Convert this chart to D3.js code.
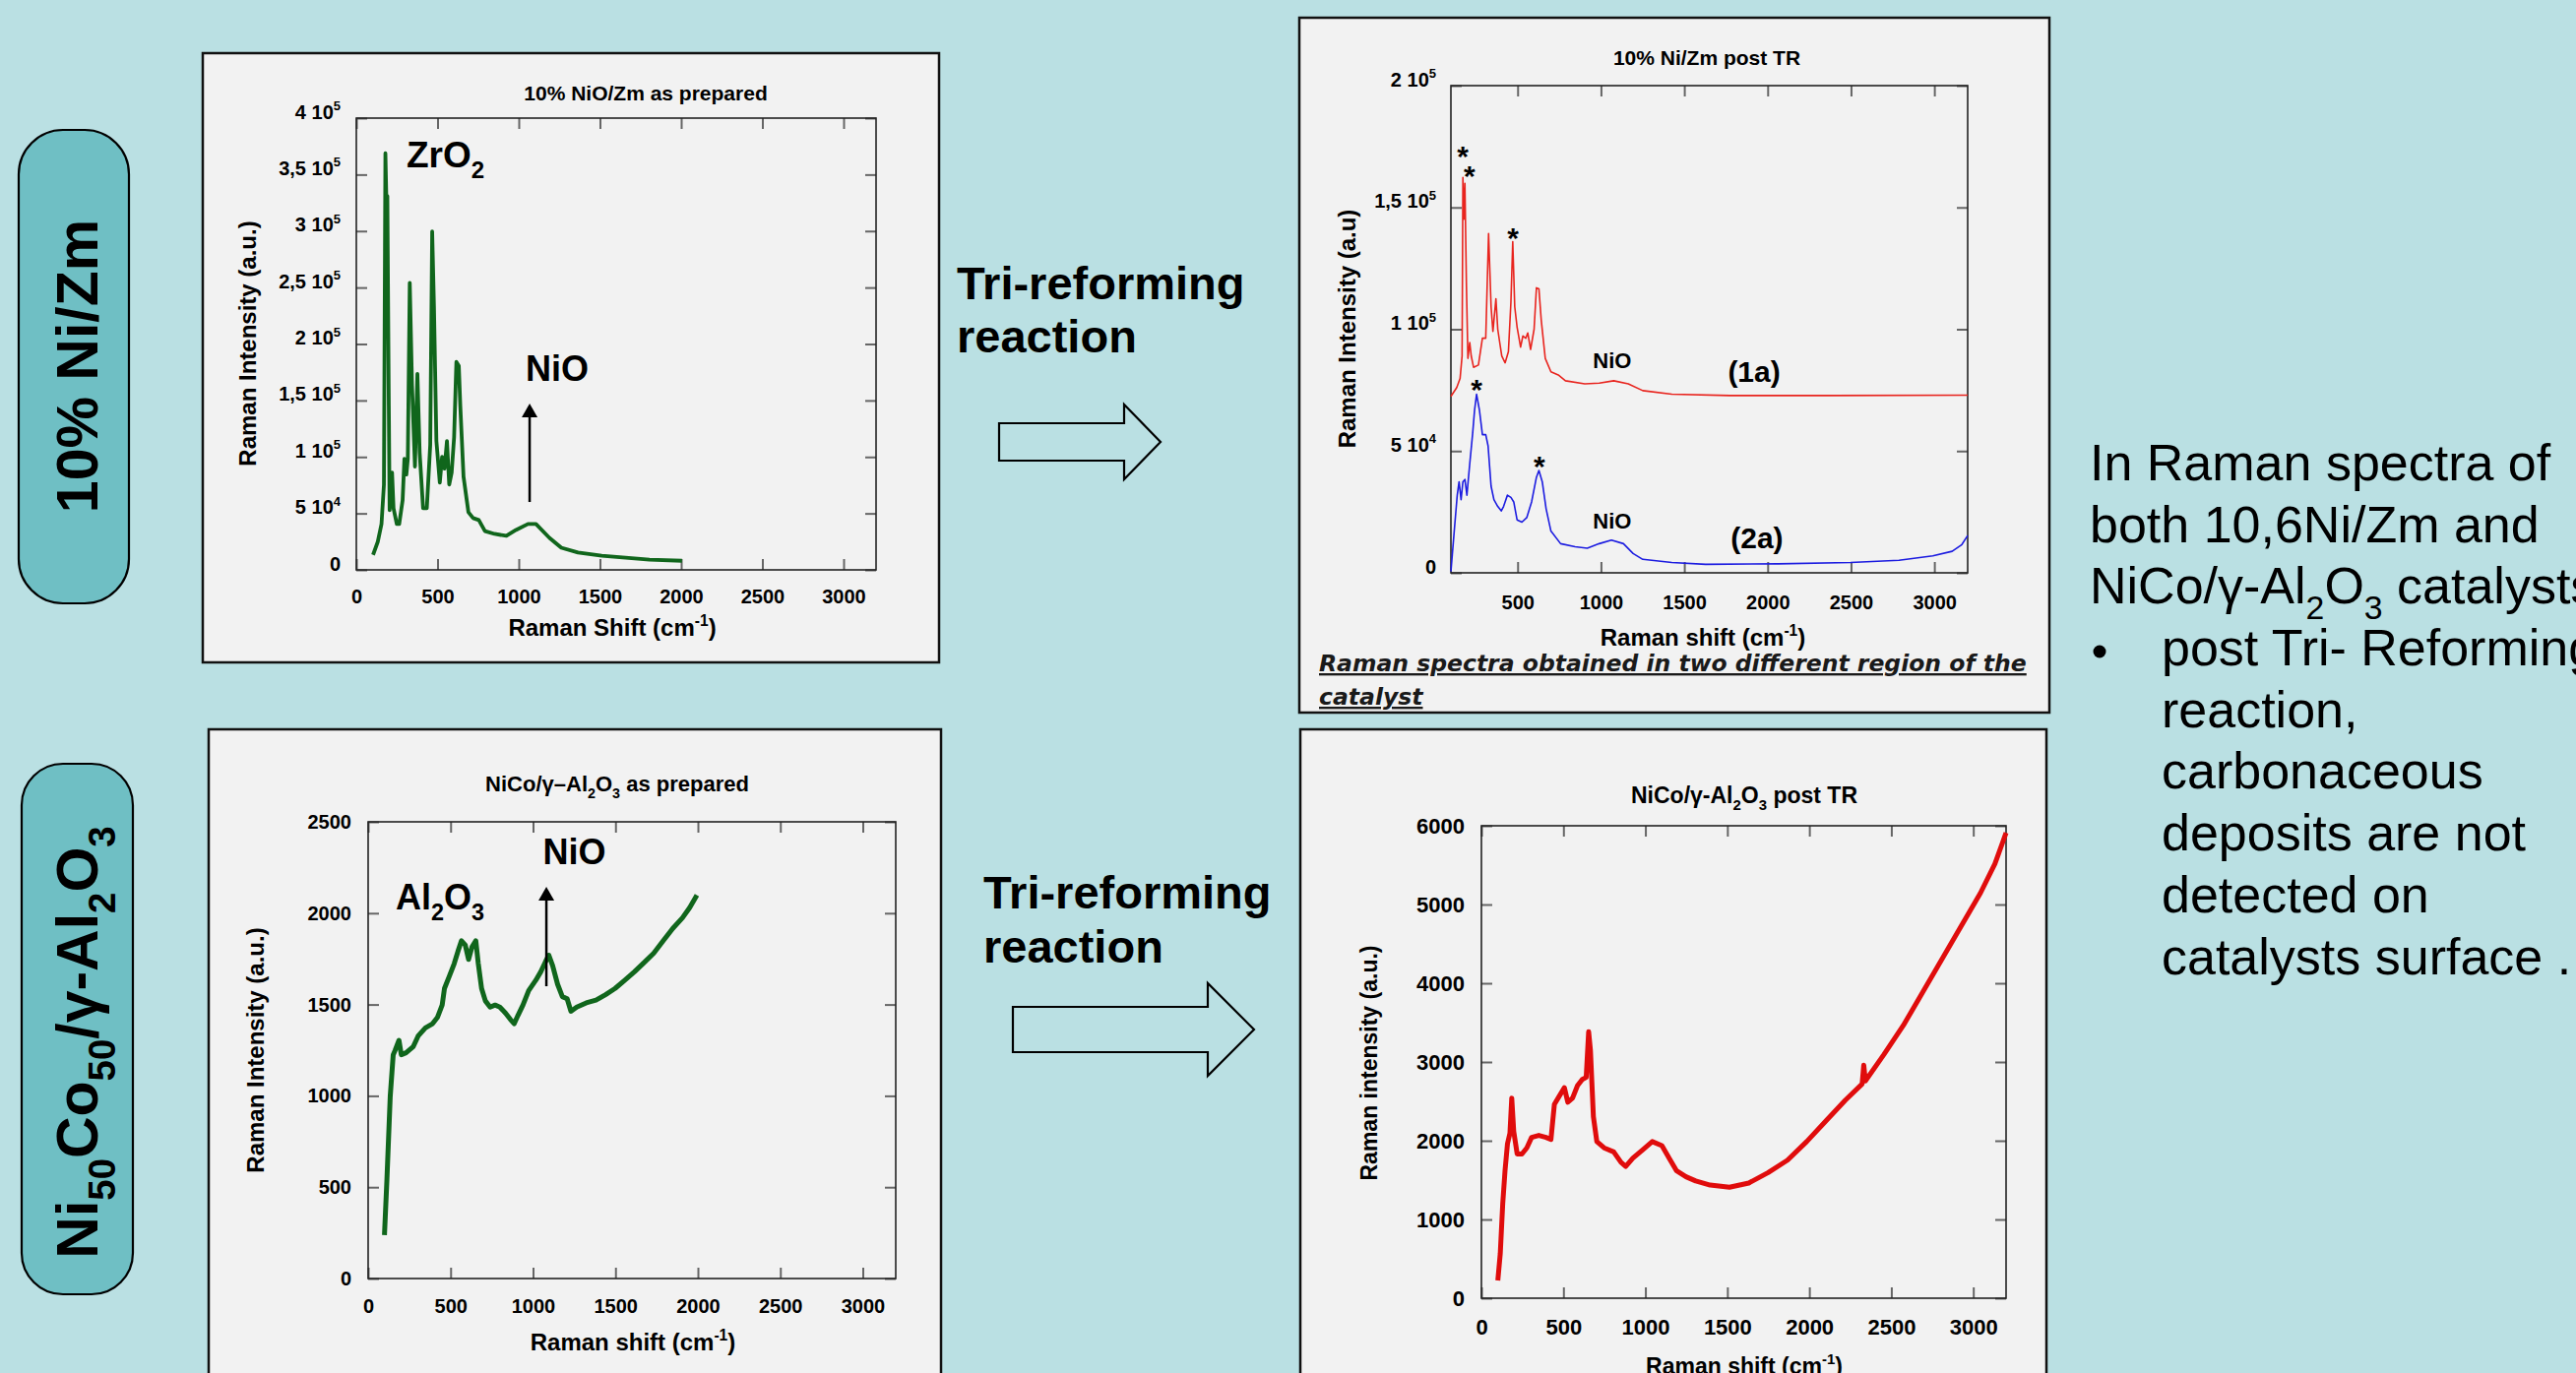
<!DOCTYPE html>
<html>
<head>
<meta charset="utf-8">
<script src="https://cdn.jsdelivr.net/npm/d3@7"></script>
<style>
body { margin: 0; background: #bae0e3; }
svg { display: block; font-family: "Liberation Sans", Arial, sans-serif; }
</style>
</head>
<body>
<svg id="slide"></svg>
<script>
// ---- data ----

// 10% NiO/Zm as prepared
var zmPrepShift = [103,132,155,170,179,185,191,200,205,220,229,249,264,285,296,308,317,329,343,361,376,390,411,434,455,467,478,493,514,528,543,558,572,587,602,616,631,640,660,690,719,754,792,851,924,983,1057,1106,1189,1262,1365,1511,1658,1805,2005];
var zmPrepIntensity = [13300,24850,40600,75600,368900,327600,331000,145600,52850,86100,54600,40600,40600,61600,98350,84350,98350,254100,163100,91350,173600,103600,54600,54600,110600,299600,233100,114100,77350,100100,89600,114100,75600,86100,117600,184100,180600,145600,82600,51100,45850,44100,34300,31850,30100,35350,40600,40600,28350,19600,15400,12600,10850,9100,8050];

// 10% Ni/Zm post TR, region (1a)
var post1aShift = [100,135,155,167,172,178,184,193,202,213,222,236,265,289,309,326,341,352,370,381,405,425,445,460,471,483,497,518,532,549,561,578,599,613,628,642,666,700,744,787,903,990,1077,1164,1251,1425,1773,2353,3200];
var post1aIntensity = [72400,76070,79760,89000,162300,145200,159900,118400,88050,94500,89000,84360,85300,96300,96300,139300,109200,99100,112500,100000,89000,86200,90800,111100,135900,109200,100900,92650,97260,96300,98500,91700,100000,117000,116600,103700,88050,82500,81230,78840,77550,77900,78840,77550,74790,73310,72760,72760,72940];

// 10% Ni/Zm post TR, region (2a)
var post2aShift = [100,120,138,149,161,172,184,196,213,231,242,254,271,289,309,323,341,358,381,402,416,439,460,477,497,526,555,584,613,628,648,671,700,758,845,918,990,1063,1135,1193,1251,1425,1628,2063,2498,2788,2991,3107,3165,3200];
var post2aIntensity = [550,17130,31870,37390,30020,37390,38310,31870,44760,57650,66860,73300,66860,56730,56730,52130,35550,30020,27260,25420,27260,31870,30950,29100,21740,20810,22660,29100,39230,42000,37390,26340,17130,11970,10680,10130,11970,13450,11970,7920,5530,4240,3500,3680,4240,5160,7000,8840,11600,15290];

// NiCo/Al2O3 as prepared
var alPrepShift = [99,114,134,152,163,187,201,230,274,303,347,391,420,449,463,493,522,545,566,589,609,630,653,668,688,711,740,770,799,834,863,886,909,939,974,1017,1047,1076,1096,1119,1149,1178,1207,1230,1265,1323,1382,1440,1498,1557,1615,1673,1732,1790,1848,1906,1950,1994];
var alPrepIntensity = [238,544,998,1225,1248,1304,1225,1236,1270,1327,1372,1395,1429,1497,1588,1656,1724,1792,1849,1826,1747,1815,1849,1724,1588,1520,1486,1497,1486,1452,1418,1395,1441,1497,1577,1633,1679,1735,1770,1713,1611,1543,1531,1463,1486,1509,1524,1554,1588,1633,1679,1729,1781,1849,1917,1974,2030,2098];

// NiCo/Al2O3 post TR
var alPostShift = [100,115,130,144,159,174,185,197,218,247,277,306,350,394,424,445,468,506,527,556,586,615,639,654,665,683,704,748,807,851,880,924,983,1042,1101,1145,1189,1248,1307,1395,1513,1631,1749,1867,1984,2102,2220,2322,2332,2342,2455,2573,2691,2809,2926,3044,3132,3200];
var alPostIntensity = [226,568,1200,1621,1963,2095,2542,2121,1832,1832,1910,2042,2068,2042,2016,2463,2542,2674,2489,2542,2700,2779,2805,3384,3147,2305,1989,1910,1858,1726,1674,1779,1884,1989,1937,1779,1621,1542,1489,1437,1410,1463,1595,1753,1989,2253,2516,2720,2960,2760,3095,3463,3884,4305,4726,5147,5516,5910];

// tick values and labels
var shiftTicks = [0,500,1000,1500,2000,2500,3000];
var shiftTicksPost = [500,1000,1500,2000,2500,3000];
var zmPrepYTicks = [0,50000,100000,150000,200000,250000,300000,350000,400000];
var zmPrepYLabels = ["0","5 10^{4}","1 10^{5}","1,5 10^{5}","2 10^{5}","2,5 10^{5}","3 10^{5}","3,5 10^{5}","4 10^{5}"];
var zmPostYTicks = [0,50000,100000,150000,200000];
var zmPostYLabels = ["0","5 10^{4}","1 10^{5}","1,5 10^{5}","2 10^{5}"];
var alPrepYTicks = [0,500,1000,1500,2000,2500];
var alPostYTicks = [0,1000,2000,3000,4000,5000,6000];

// peak markers (shift, intensity at text baseline)
var starMarks1a = [[171,166700],[212,158600],[472,133200]];
var starMarks2a = [[254,71000],[631,39700]];

var bulletLines = ["In Raman spectra of", "both 10,6Ni/Zm and", "NiCo/γ-Al_{2}O_{3} catalysts"];
var bulletItems = ["post Tri- Reforming", "reaction,", "carbonaceous", "deposits are not", "detected on", "catalysts surface ."];

var svgWidth = 2617, svgHeight = 1395;
var svg = d3.select("#slide")
    .attr("width", svgWidth)
    .attr("height", svgHeight);

svg.append("rect").attr("width", svgWidth).attr("height", svgHeight).attr("fill", "#bae0e3");

// text with _{sub} and ^{sup} parts
function rich(sel, str, size) {
    var parts = str.split(/([_^]\{[^}]*\})/);
    var shift = 0;
    parts.forEach(function (p) {
        if (!p) return;
        var t = sel.append("tspan");
        if (p[0] === "_" || p[0] === "^") {
            var target = p[0] === "_" ? size * 0.3 : -size * 0.42;
            t.attr("dy", target - shift).attr("font-size", size * 0.65).text(p.slice(2, -1));
            shift = target;
        } else {
            t.attr("dy", -shift).text(p);
            shift = 0;
        }
    });
    return sel;
}

function label(x, y, str, size, opts) {
    opts = opts || {};
    var t = svg.append("text")
        .attr("x", x).attr("y", y)
        .attr("font-size", size)
        .attr("font-weight", opts.weight || "bold")
        .attr("text-anchor", opts.anchor || "start")
        .attr("fill", "#000");
    if (opts.rotate) t.attr("transform", "rotate(-90," + x + "," + y + ")");
    return rich(t, str, size);
}

function drawPanel(p) {
    svg.append("rect")
        .attr("x", p.box[0]).attr("y", p.box[1])
        .attr("width", p.box[2]).attr("height", p.box[3])
        .attr("fill", "#f2f2f2").attr("stroke", "#111").attr("stroke-width", 2.5);

    var x = d3.scaleLinear().domain(p.xDomain).range([p.left, p.right]);
    var y = d3.scaleLinear().domain(p.yDomain).range([p.bottom, p.top]);

    var g = svg.append("g");
    function style(a) {
        a.attr("font-size", p.fs).attr("font-family", null).attr("font-weight", "bold").attr("color", "#000");
        a.select(".domain").remove();
        a.selectAll(".tick line").attr("stroke", "#666").attr("stroke-width", 2);
    }
    g.append("g").attr("transform", "translate(0," + p.bottom + ")")
        .call(d3.axisBottom(x).tickValues(p.xTicks).tickFormat(d3.format("d"))
            .tickSizeInner(-11).tickSizeOuter(0).tickPadding(p.xPad))
        .call(style);
    g.append("g").attr("transform", "translate(0," + p.top + ")")
        .call(d3.axisTop(x).tickValues(p.xTicks).tickFormat("").tickSizeInner(-11).tickSizeOuter(0))
        .call(style);
    var yAxis = g.append("g").attr("transform", "translate(" + p.left + ",0)")
        .call(d3.axisLeft(y).tickValues(p.yTicks).tickFormat(d3.format("d"))
            .tickSizeInner(-11).tickSizeOuter(0).tickPadding(p.yPad))
        .call(style);
    g.append("g").attr("transform", "translate(" + p.right + ",0)")
        .call(d3.axisRight(y).tickValues(p.yTicks).tickFormat("").tickSizeInner(-11).tickSizeOuter(0))
        .call(style);
    if (p.yLabels) {
        yAxis.selectAll(".tick text").each(function (d) {
            var t = d3.select(this).text(null);
            rich(t, p.yLabels[p.yTicks.indexOf(d)], p.fs);
        });
    }

    g.append("rect")
        .attr("x", p.left).attr("y", p.top)
        .attr("width", p.right - p.left).attr("height", p.bottom - p.top)
        .attr("fill", "none").attr("stroke", "#222").attr("stroke-width", 1.6);

    var line = d3.line()
        .x(function (d) { return x(d[0]); })
        .y(function (d) { return y(d[1]); });
    p.series.forEach(function (s) {
        g.append("path")
            .datum(d3.zip(s.x, s.y))
            .attr("fill", "none")
            .attr("stroke", s.color)
            .attr("stroke-width", s.width)
            .attr("stroke-linejoin", "round")
            .attr("d", line);
    });

    label(p.title[0], p.title[1], p.title[2], p.title[3], { anchor: "middle" });
    label(p.xTitle[0], p.xTitle[1], p.xTitle[2], p.xTitle[3], { anchor: "middle" });
    label(p.yTitle[0], p.yTitle[1], p.yTitle[2], p.yTitle[3], { anchor: "middle", rotate: true });
    return { x: x, y: y };
}

function upArrow(x, y0, y1) {
    svg.append("line").attr("x1", x).attr("x2", x).attr("y1", y0).attr("y2", y1 + 12)
        .attr("stroke", "#000").attr("stroke-width", 2.5);
    svg.append("path")
        .attr("d", "M" + (x - 8) + "," + (y1 + 14) + "L" + x + "," + y1 + "L" + (x + 8) + "," + (y1 + 14) + "Z")
        .attr("fill", "#000");
}

function blockArrow(x0, x1, x2, yMid, half, headHalf) {
    svg.append("path")
        .attr("d", "M" + x0 + "," + (yMid - half) + "H" + x1 + "V" + (yMid - headHalf) +
            "L" + x2 + "," + yMid + "L" + x1 + "," + (yMid + headHalf) + "V" + (yMid + half) +
            "H" + x0 + "Z")
        .attr("fill", "#bae0e3").attr("stroke", "#000").attr("stroke-width", 2.2);
}

// ---- panel 1: 10% NiO/Zm as prepared ----
var p1 = drawPanel({
    box: [206, 54, 748, 619],
    left: 362, right: 890, top: 120, bottom: 579,
    xDomain: [0, 3200], yDomain: [0, 400000],
    xTicks: shiftTicks, yTicks: zmPrepYTicks, yLabels: zmPrepYLabels,
    fs: 20, xPad: 20, yPad: 16,
    series: [{ x: zmPrepShift, y: zmPrepIntensity, color: "#10661c", width: 3.8 }],
    title: [656, 102, "10% NiO/Zm as prepared", 21],
    xTitle: [622, 646, "Raman Shift (cm^{-1})", 24],
    yTitle: [260, 349, "Raman Intensity (a.u.)", 24]
});
label(p1.x(309), p1.y(356400), "ZrO_{2}", 37);
label(p1.x(1042), p1.y(167300), "NiO", 36);
upArrow(p1.x(1067), p1.y(60100), p1.y(147300));

// ---- panel 2: 10% Ni/Zm post TR ----
var p2 = drawPanel({
    box: [1320, 18, 762, 706],
    left: 1474, right: 1999, top: 87, bottom: 582,
    xDomain: [100, 3200], yDomain: [0, 200000],
    xTicks: shiftTicksPost, yTicks: zmPostYTicks, yLabels: zmPostYLabels,
    fs: 20, xPad: 23, yPad: 15,
    series: [
        { x: post1aShift, y: post1aIntensity, color: "#e8241e", width: 1.6 },
        { x: post2aShift, y: post2aIntensity, color: "#1c1ce0", width: 1.6 }
    ],
    title: [1734, 66, "10% Ni/Zm post TR", 21],
    xTitle: [1730, 656, "Raman shift (cm^{-1})", 24],
    yTitle: [1377, 334, "Raman Intensity (a.u)", 24]
});
starMarks1a.concat(starMarks2a).forEach(function (s) {
    label(p2.x(s[0]), p2.y(s[1]), "*", 30, { anchor: "middle" });
});
label(p2.x(1068), p2.y(83970), "NiO", 22, { anchor: "middle" });
label(p2.x(1068), p2.y(18170), "NiO", 22, { anchor: "middle" });
label(p2.x(1919), p2.y(78300), "(1a)", 30, { anchor: "middle" });
label(p2.x(1936), p2.y(10290), "(2a)", 30, { anchor: "middle" });

var cap = svg.append("text")
    .attr("font-family", "'DejaVu Sans', sans-serif")
    .attr("font-weight", "bold").attr("font-style", "italic")
    .attr("font-size", 23.5).attr("fill", "#1a1a1a")
    .attr("text-decoration", "underline");
cap.append("tspan").attr("x", 1340).attr("y", 682).text("Raman spectra obtained in two different region of the");
cap.append("tspan").attr("x", 1340).attr("y", 716).text("catalyst");

// ---- panel 3: NiCo/Al2O3 as prepared ----
var p3 = drawPanel({
    box: [212, 741, 744, 720],
    left: 374, right: 910, top: 835, bottom: 1299,
    xDomain: [0, 3200], yDomain: [0, 2500],
    xTicks: shiftTicks, yTicks: alPrepYTicks,
    fs: 20, xPad: 21, yPad: 17,
    series: [{ x: alPrepShift, y: alPrepIntensity, color: "#10661c", width: 5 }],
    title: [627, 804, "NiCo/γ–Al_{2}O_{3} as prepared", 22],
    xTitle: [643, 1372, "Raman shift (cm^{-1})", 24],
    yTitle: [268, 1067, "Raman Intensity (a.u.)", 24]
});
label(p3.x(167), p3.y(2020), "Al_{2}O_{3}", 36);
label(p3.x(1251), p3.y(2268), "NiO", 36, { anchor: "middle" });
upArrow(p3.x(1081), p3.y(1600), p3.y(2144));

// ---- panel 4: NiCo/Al2O3 post TR ----
var p4 = drawPanel({
    box: [1321, 741, 758, 720],
    left: 1505, right: 2038, top: 839, bottom: 1319,
    xDomain: [0, 3200], yDomain: [0, 6000],
    xTicks: shiftTicks, yTicks: alPostYTicks,
    fs: 22, xPad: 21, yPad: 17,
    series: [{ x: alPostShift, y: alPostIntensity, color: "#e00c0c", width: 5 }],
    title: [1772, 816, "NiCo/γ-Al_{2}O_{3} post TR", 23],
    xTitle: [1772, 1396, "Raman shift (cm^{-1})", 23],
    yTitle: [1399, 1080, "Raman intensity (a.u.)", 23]
});

// ---- side labels ----
svg.append("rect").attr("x", 19).attr("y", 132).attr("width", 112).attr("height", 481)
    .attr("rx", 45).attr("ry", 45)
    .attr("fill", "#6fbfc4").attr("stroke", "#000").attr("stroke-width", 2.2);
label(99, 372, "10% Ni/Zm", 59, { anchor: "middle", rotate: true });

svg.append("rect").attr("x", 22).attr("y", 776).attr("width", 113).attr("height", 539)
    .attr("rx", 42).attr("ry", 42)
    .attr("fill", "#6fbfc4").attr("stroke", "#000").attr("stroke-width", 2.2);
label(99, 1059, "Ni_{50}Co_{50}/γ-Al_{2}O_{3}", 59, { anchor: "middle", rotate: true });

// ---- reaction arrows ----
label(972, 304, "Tri-reforming", 47);
label(972, 358, "reaction", 47);
blockArrow(1015, 1142, 1179, 449, 19, 38);

label(999, 923, "Tri-reforming", 47);
label(999, 978, "reaction", 47);
blockArrow(1029, 1227, 1274, 1046, 23, 47);

// ---- right hand text ----
bulletLines.forEach(function (s, i) {
    label(2123, 488 + i * 62.6, s, 52, { weight: "normal" });
});
svg.append("circle").attr("cx", 2133).attr("cy", 662).attr("r", 6.5).attr("fill", "#000");
bulletItems.forEach(function (s, i) {
    label(2196, 676 + i * 62.7, s, 52, { weight: "normal" });
});
</script>
</body>
</html>
